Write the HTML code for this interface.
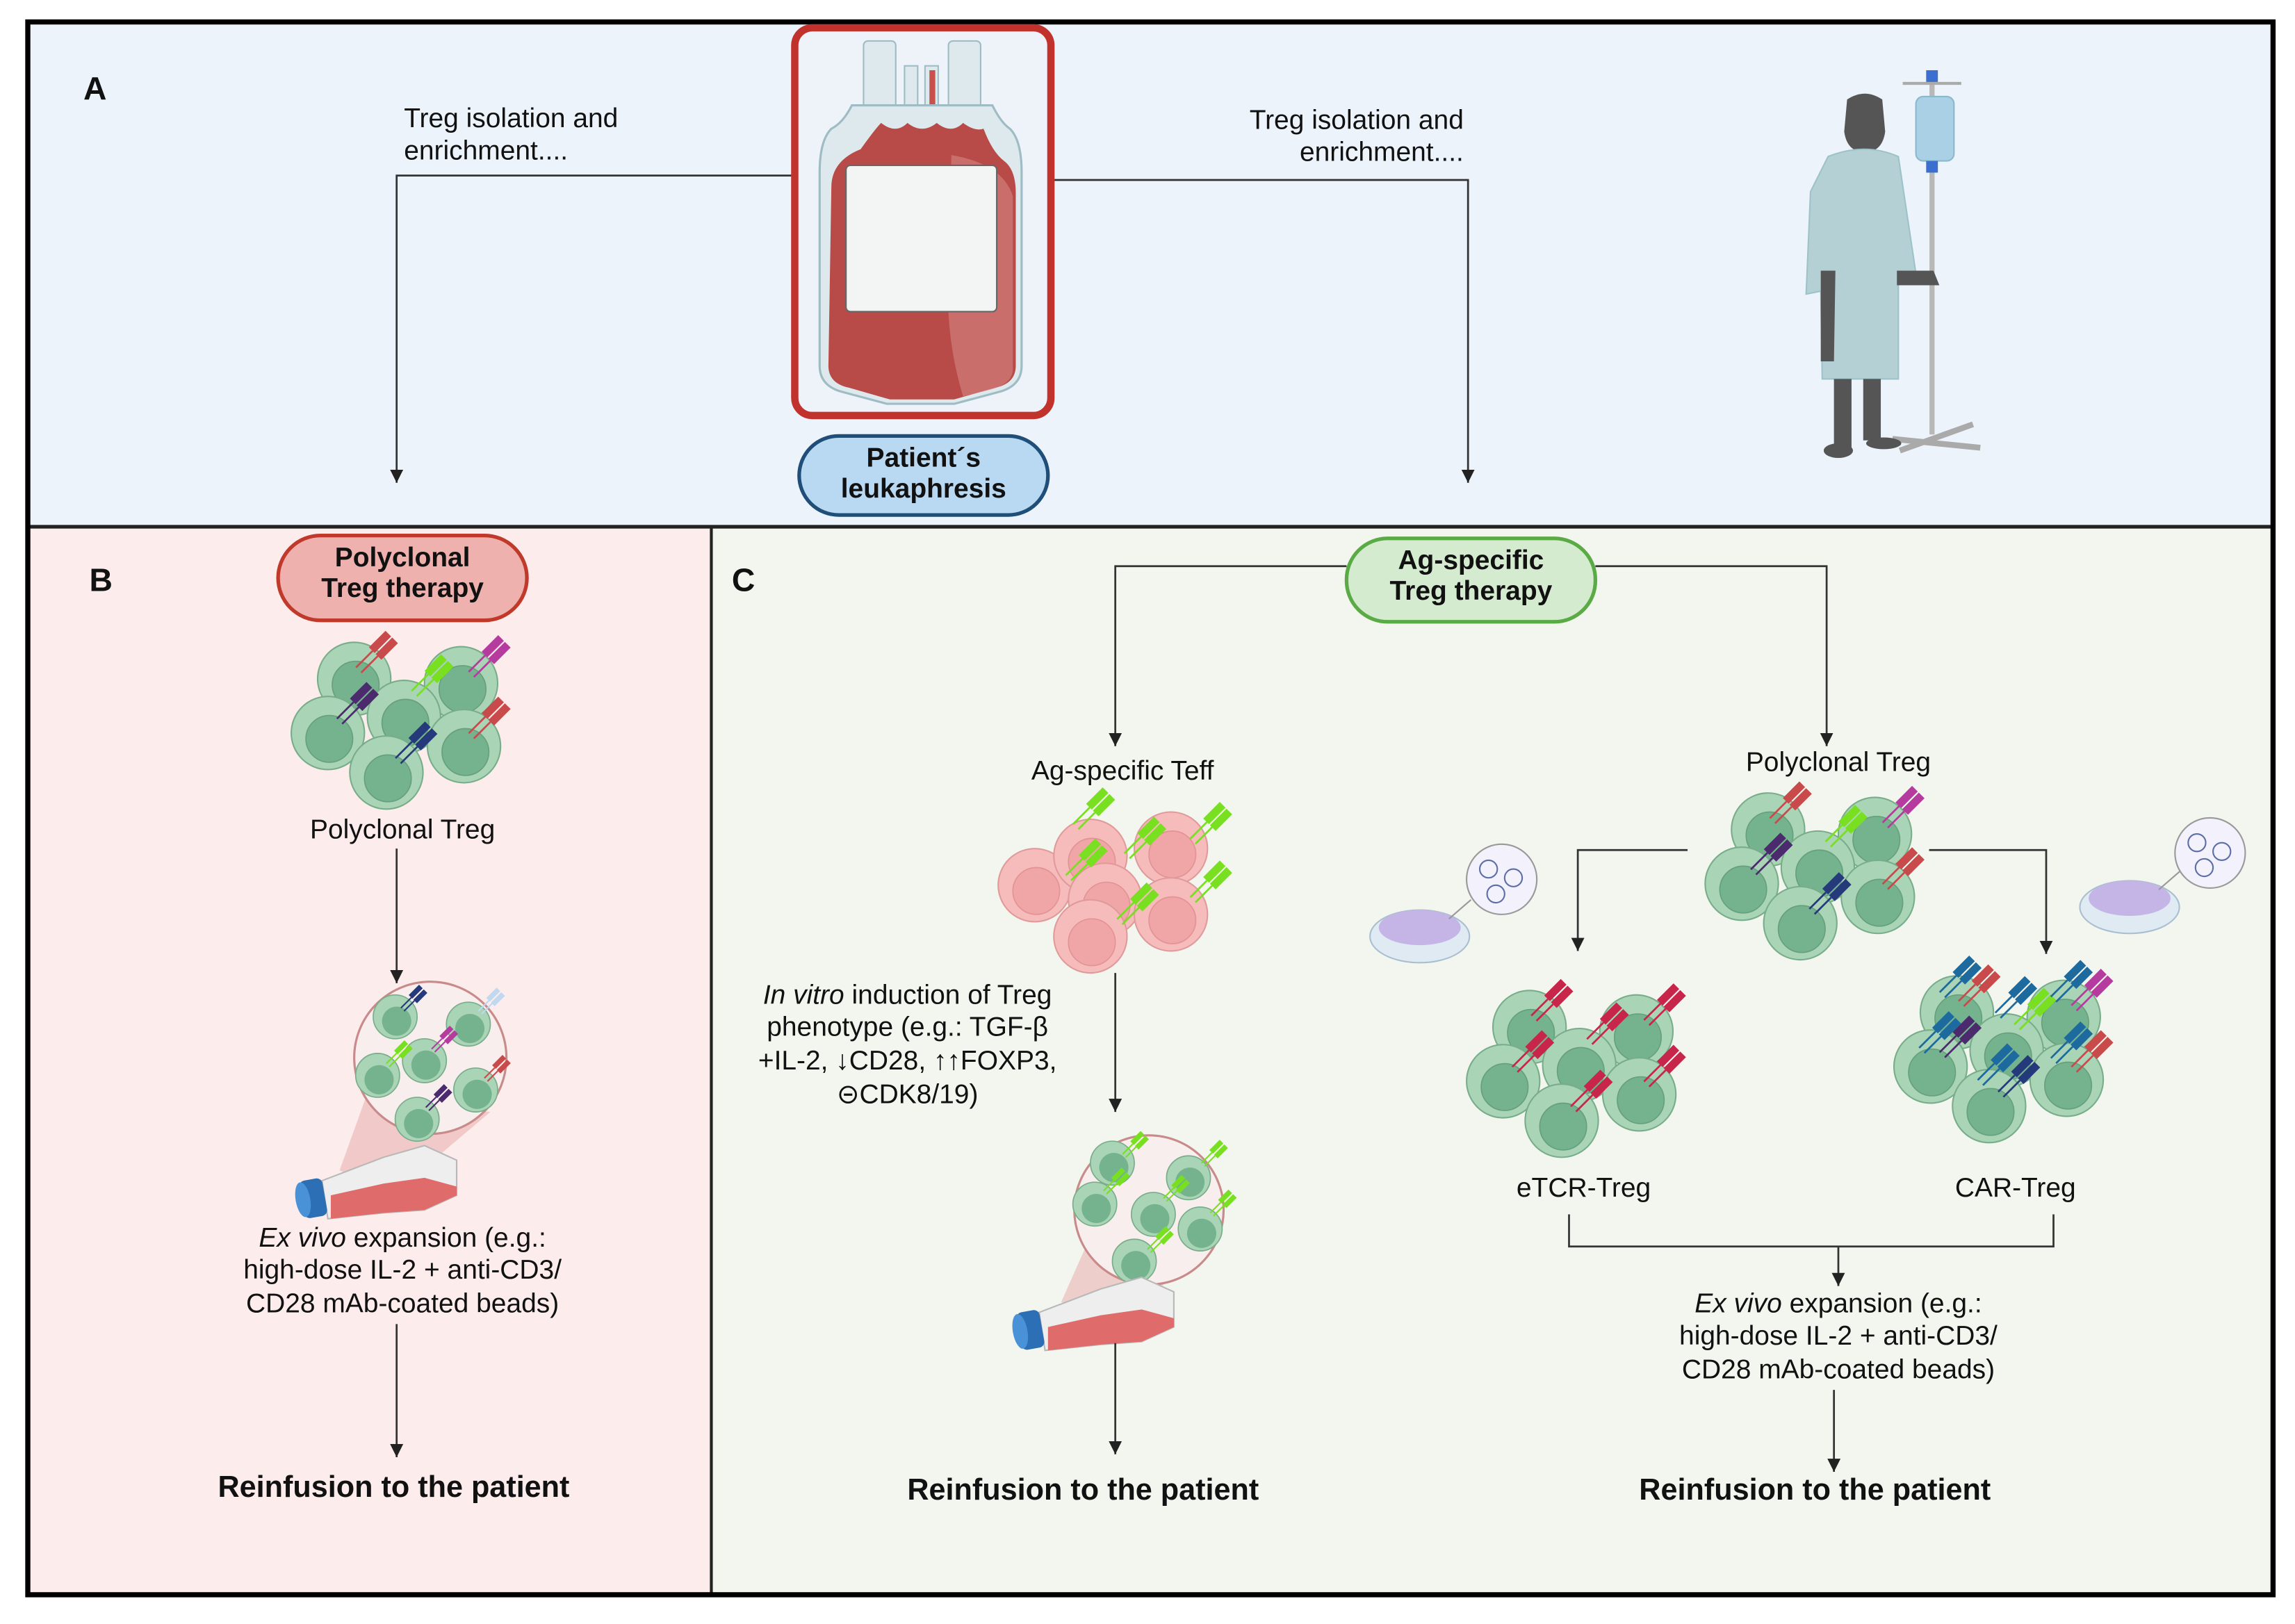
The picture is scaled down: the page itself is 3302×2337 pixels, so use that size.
<!DOCTYPE html>
<html><head><meta charset="utf-8"><style>
html,body{margin:0;padding:0;background:#fff}
svg{display:block}
text{font-family:"Liberation Sans",Arial,sans-serif;fill:#111}
</style></head><body>
<svg width="3302" height="2337" viewBox="0 0 1568 1110" preserveAspectRatio="none" xmlns="http://www.w3.org/2000/svg">
<defs>
<marker id="ah" viewBox="0 0 10 10" refX="10" refY="5" markerWidth="9" markerHeight="10" orient="auto" markerUnits="userSpaceOnUse"><path d="M0,0 L10,5 L0,10 Z" fill="#222"/></marker>
<g id="cell"><circle r="25" fill="#aad4b6" stroke="#78ad8a" stroke-width="1"/><circle cx="1" cy="4" r="16" fill="#74b38d" stroke="#66a07d" stroke-width="0.8"/></g>
<g id="pcell"><circle r="25" fill="#f6bcbc" stroke="#e09a9a" stroke-width="1"/><circle cx="1" cy="4" r="16" fill="#f0a6a6" stroke="#e39393" stroke-width="0.8"/></g>
<g id="scell"><circle r="15" fill="#aad4b6" stroke="#78ad8a" stroke-width="0.8"/><circle cx="1" cy="3" r="10" fill="#74b38d"/></g>
<g id="rec"><g transform="rotate(45)"><line x1="-2.5" y1="0" x2="-2.5" y2="-16" stroke="currentColor" stroke-width="1.3"/><line x1="2.5" y1="0" x2="2.5" y2="-16" stroke="currentColor" stroke-width="1.3"/><rect x="-6" y="-32" width="5.5" height="16" fill="currentColor"/><rect x="0.5" y="-32" width="5.5" height="16" fill="currentColor"/></g></g>
<g id="srec"><g transform="rotate(45)"><line x1="-1.5" y1="0" x2="-1.5" y2="-10" stroke="currentColor" stroke-width="1"/><line x1="1.5" y1="0" x2="1.5" y2="-10" stroke="currentColor" stroke-width="1"/><rect x="-4" y="-20" width="3.5" height="10" fill="currentColor"/><rect x="0.5" y="-20" width="3.5" height="10" fill="currentColor"/></g></g>
<g id="flask">
<polygon points="8,-8 50,-24 78,-32 100,-22 100,2 78,12 50,14 12,18" fill="#eeeeee" stroke="#b8b8b8" stroke-width="1"/>
<polygon points="14,2 50,-6 78,-10 100,-4 100,2 78,12 50,14 14,18" fill="#e06b6b"/>
<rect x="-6" y="-9" width="16" height="26" rx="4" fill="#2c6fb5" transform="rotate(-10 2 4)"/>
<ellipse cx="-5" cy="5" rx="5" ry="12" fill="#4a92d8" transform="rotate(-10 -5 5)"/>
</g>
</defs>

<rect x="19" y="15" width="1534" height="345" fill="#edf3fb"/>
<rect x="19" y="360" width="467" height="730" fill="#fcecec"/>
<rect x="486" y="360" width="1067" height="730" fill="#f3f6ef"/>
<line x1="19" y1="360" x2="1553" y2="360" stroke="#222" stroke-width="2.5"/>
<line x1="486" y1="360" x2="486" y2="1090" stroke="#222" stroke-width="2"/>
<rect x="19" y="15" width="1534" height="1075" fill="none" stroke="#000" stroke-width="3.5"/>

<text x="57" y="68" font-size="22" font-weight="bold">A</text>
<text x="276" y="87" font-size="18.5">Treg isolation and</text>
<text x="276" y="109" font-size="18.5">enrichment....</text>
<polyline points="542,120 271,120 271,330" fill="none" stroke="#333" stroke-width="1.3" marker-end="url(#ah)"/>
<text x="1000" y="88" font-size="18.5" text-anchor="end">Treg isolation and</text>
<text x="1000" y="110" font-size="18.5" text-anchor="end">enrichment....</text>
<polyline points="718,123 1003,123 1003,330" fill="none" stroke="#333" stroke-width="1.3" marker-end="url(#ah)"/>

<!-- blood bag -->
<rect x="543" y="19" width="175" height="265" rx="12" fill="#eef3fa" stroke="#c2322c" stroke-width="5"/>
<rect x="590" y="28" width="22" height="50" rx="3" fill="#dde9ec" stroke="#9fbcc4"/>
<rect x="648" y="28" width="22" height="50" rx="3" fill="#dde9ec" stroke="#9fbcc4"/>
<rect x="618" y="45" width="9" height="30" fill="#dde9ec" stroke="#9fbcc4"/>
<rect x="632" y="45" width="9" height="30" fill="#dde9ec" stroke="#9fbcc4"/>
<rect x="635" y="48" width="4" height="28" fill="#c9514c"/>
<path d="M582,72 h96 q6,12 12,16 q8,8 8,30 v132 q0,14 -16,18 l-30,8 h-46 l-30,-8 q-16,-4 -16,-18 v-132 q0,-22 8,-30 q8,-4 14,-16 Z" fill="#dde9ec" stroke="#9fbcc4" stroke-width="1.5"/>
<path d="M568,128 q0,-18 20,-26 q10,-14 14,-18 q10,8 18,0 q10,8 20,0 q10,8 18,0 q8,6 14,4 q6,16 14,22 q8,6 8,22 v118 q0,12 -14,15 l-28,8 h-44 l-28,-8 q-14,-3 -14,-15 Z" fill="#b84b47"/>
<path d="M650,106 q35,6 42,28 v118 q0,10 -14,14 l-20,5 q-12,-40 -10,-80 Z" fill="#d38583" opacity="0.6"/>
<rect x="578" y="113" width="103" height="100" rx="3" fill="#f3f4f4" stroke="#666" stroke-width="1"/>

<rect x="546" y="298" width="170" height="54" rx="27" fill="#b9d9f2" stroke="#1f4e79" stroke-width="2.5"/>
<text x="631" y="319" font-size="18.5" font-weight="bold" text-anchor="middle">Patient´s</text>
<text x="631" y="340" font-size="18.5" font-weight="bold" text-anchor="middle">leukaphresis</text>

<!-- patient -->
<g>
<line x1="1320" y1="55" x2="1320" y2="297" stroke="#b8b8b8" stroke-width="3.5"/>
<path d="M1300,57 h40" stroke="#aaa" stroke-width="2" fill="none"/>
<rect x="1316" y="48" width="8" height="8" fill="#3a6fd0"/>
<rect x="1309" y="66" width="26" height="44" rx="5" fill="#a9d0e4" stroke="#8ab8cc"/>
<rect x="1316" y="110" width="8" height="8" fill="#3a6fd0"/>
<path d="M1293,300 l60,6 M1298,308 l50,-18" stroke="#aaa" stroke-width="4" fill="none"/>
<path d="M1262,68 q12,-8 24,0 l2,22 q-2,14 -14,14 q-12,0 -14,-14 Z" fill="#555"/>
<path d="M1249,107 q25,-10 48,0 l12,80 l-12,4 l0,68 h-52 l-1,-60 l-10,2 l3,-70 Z" fill="#b5d0d5" stroke="#9cc3c8"/>
<path d="M1296,185 h25 l4,10 h-29 Z" fill="#555"/>
<path d="M1244,185 l0,62 h9 l1,-62 Z" fill="#555"/>
<rect x="1253" y="259" width="12" height="47" fill="#555"/>
<rect x="1273" y="259" width="12" height="42" fill="#555"/>
<ellipse cx="1256" cy="308" rx="10" ry="5" fill="#555"/>
<ellipse cx="1287" cy="303" rx="12" ry="4" fill="#555"/>
</g>

<!-- B -->
<text x="61" y="404" font-size="22" font-weight="bold">B</text>
<rect x="190" y="366" width="170" height="58" rx="29" fill="#efb1ae" stroke="#c0392b" stroke-width="2.5"/>
<text x="275" y="387" font-size="18.5" font-weight="bold" text-anchor="middle">Polyclonal</text>
<text x="275" y="408" font-size="18.5" font-weight="bold" text-anchor="middle">Treg therapy</text>

<g>
<use href="#cell" x="242" y="464"/><use href="#cell" x="224" y="501"/><use href="#cell" x="315" y="467"/><use href="#cell" x="276" y="490"/><use href="#cell" x="317" y="510"/><use href="#cell" x="264" y="528"/>
<use href="#rec" x="245" y="458" color="#c94a4a"/>
<use href="#rec" x="232" y="493" color="#4b2a6e"/>
<use href="#rec" x="283" y="474" color="#78e020"/>
<use href="#rec" x="322" y="461" color="#b53c9e"/>
<use href="#rec" x="322" y="503" color="#c94a4a"/>
<use href="#rec" x="272" y="520" color="#253a7a"/>
</g>
<text x="275" y="573" font-size="18.5" text-anchor="middle">Polyclonal Treg</text>
<line x1="271" y1="580" x2="271" y2="672" stroke="#333" stroke-width="1.3" marker-end="url(#ah)"/>

<polygon points="250,750 335,760 270,815 232,800" fill="#e8a5a5" opacity="0.5"/>
<circle cx="294" cy="723" r="52" fill="#f8eeee" stroke="#c98a8a" stroke-width="1.5"/>
<use href="#scell" x="270" y="695"/><use href="#scell" x="320" y="700"/><use href="#scell" x="290" y="725"/><use href="#scell" x="258" y="735"/><use href="#scell" x="325" y="745"/><use href="#scell" x="285" y="765"/>
<use href="#srec" x="275" y="690" color="#253a7a"/><use href="#srec" x="328" y="692" color="#c0d8f0"/><use href="#srec" x="296" y="718" color="#b53c9e"/><use href="#srec" x="265" y="728" color="#78e020"/><use href="#srec" x="332" y="738" color="#c94a4a"/><use href="#srec" x="292" y="758" color="#4b2a6e"/>
<use href="#flask" x="212" y="815"/>

<text x="275" y="852" font-size="18.5" text-anchor="middle"><tspan font-style="italic">Ex vivo</tspan> expansion (e.g.:</text>
<text x="275" y="874" font-size="18.5" text-anchor="middle">high-dose IL-2 + anti-CD3/</text>
<text x="275" y="897" font-size="18.5" text-anchor="middle">CD28 mAb-coated beads)</text>
<line x1="271" y1="905" x2="271" y2="996" stroke="#333" stroke-width="1.3" marker-end="url(#ah)"/>
<text x="269" y="1023" font-size="20.5" font-weight="bold" text-anchor="middle">Reinfusion to the patient</text>

<!-- C -->
<text x="500" y="404" font-size="22" font-weight="bold">C</text>
<rect x="920" y="368" width="170" height="57" rx="28" fill="#d5ebd0" stroke="#5aab46" stroke-width="2.5"/>
<text x="1005" y="389" font-size="18.5" font-weight="bold" text-anchor="middle">Ag-specific</text>
<text x="1005" y="410" font-size="18.5" font-weight="bold" text-anchor="middle">Treg therapy</text>
<polyline points="920,387 762,387 762,510" fill="none" stroke="#333" stroke-width="1.3" marker-end="url(#ah)"/>
<polyline points="1090,387 1248,387 1248,510" fill="none" stroke="#333" stroke-width="1.3" marker-end="url(#ah)"/>

<text x="767" y="533" font-size="18.5" text-anchor="middle">Ag-specific Teff</text>
<g>
<use href="#pcell" x="707" y="605"/><use href="#pcell" x="745" y="585"/><use href="#pcell" x="800" y="580"/><use href="#pcell" x="755" y="615"/><use href="#pcell" x="800" y="625"/><use href="#pcell" x="745" y="640"/>
<use href="#rec" x="735" y="565" color="#78e020"/><use href="#rec" x="730" y="600" color="#78e020"/><use href="#rec" x="770" y="585" color="#78e020"/><use href="#rec" x="815" y="575" color="#78e020"/><use href="#rec" x="815" y="615" color="#78e020"/><use href="#rec" x="765" y="630" color="#78e020"/>
</g>
<line x1="762" y1="665" x2="762" y2="760" stroke="#333" stroke-width="1.3" marker-end="url(#ah)"/>
<text x="620" y="686" font-size="18.5" text-anchor="middle"><tspan font-style="italic">In vitro</tspan> induction of Treg</text>
<text x="620" y="708" font-size="18.5" text-anchor="middle">phenotype (e.g.: TGF-β</text>
<text x="620" y="731" font-size="18.5" text-anchor="middle">+IL-2, ↓CD28, ↑↑FOXP3,</text>
<text x="620" y="754" font-size="18.5" text-anchor="middle">⊝CDK8/19)</text>

<polygon points="745,845 830,840 770,905 725,890" fill="#e8a5a5" opacity="0.5"/>
<circle cx="785" cy="827" r="51" fill="#f8eeee" stroke="#c98a8a" stroke-width="1.5"/>
<use href="#scell" x="760" y="795"/><use href="#scell" x="812" y="805"/><use href="#scell" x="748" y="823"/><use href="#scell" x="788" y="830"/><use href="#scell" x="820" y="840"/><use href="#scell" x="775" y="862"/>
<use href="#srec" x="768" y="790" color="#78e020"/><use href="#srec" x="822" y="796" color="#78e020"/><use href="#srec" x="755" y="815" color="#78e020"/><use href="#srec" x="796" y="820" color="#78e020"/><use href="#srec" x="828" y="830" color="#78e020"/><use href="#srec" x="785" y="855" color="#78e020"/>
<use href="#flask" x="702" y="905"/>
<line x1="762" y1="918" x2="762" y2="994" stroke="#333" stroke-width="1.3" marker-end="url(#ah)"/>
<text x="740" y="1025" font-size="20.5" font-weight="bold" text-anchor="middle">Reinfusion to the patient</text>

<text x="1256" y="527" font-size="18.5" text-anchor="middle">Polyclonal Treg</text>
<g transform="translate(966,103)">
<use href="#cell" x="242" y="464"/><use href="#cell" x="224" y="501"/><use href="#cell" x="315" y="467"/><use href="#cell" x="276" y="490"/><use href="#cell" x="317" y="510"/><use href="#cell" x="264" y="528"/>
<use href="#rec" x="245" y="458" color="#c94a4a"/><use href="#rec" x="232" y="493" color="#4b2a6e"/><use href="#rec" x="283" y="474" color="#78e020"/><use href="#rec" x="322" y="461" color="#b53c9e"/><use href="#rec" x="322" y="503" color="#c94a4a"/><use href="#rec" x="272" y="520" color="#253a7a"/>
</g>
<polyline points="1153,581 1078,581 1078,650" fill="none" stroke="#333" stroke-width="1.3" marker-end="url(#ah)"/>
<polyline points="1318,581 1398,581 1398,652" fill="none" stroke="#333" stroke-width="1.3" marker-end="url(#ah)"/>

<g>
<ellipse cx="970" cy="640" rx="34" ry="18" fill="#dfeaf3" stroke="#a9bfd0"/>
<ellipse cx="970" cy="634" rx="28" ry="12" fill="#c4b5e6"/>
<line x1="990" y1="628" x2="1005" y2="615" stroke="#999"/>
<circle cx="1026" cy="601" r="24" fill="#f3f1fb" stroke="#999"/>
<circle cx="1017" cy="594" r="6" fill="none" stroke="#5b6ea8"/><circle cx="1034" cy="600" r="6" fill="none" stroke="#5b6ea8"/><circle cx="1022" cy="611" r="6" fill="none" stroke="#5b6ea8"/>
<ellipse cx="1455" cy="620" rx="34" ry="18" fill="#dfeaf3" stroke="#a9bfd0"/>
<ellipse cx="1455" cy="614" rx="28" ry="12" fill="#c4b5e6"/>
<line x1="1475" y1="608" x2="1490" y2="595" stroke="#999"/>
<circle cx="1510" cy="583" r="24" fill="#f3f1fb" stroke="#999"/>
<circle cx="1501" cy="576" r="6" fill="none" stroke="#5b6ea8"/><circle cx="1518" cy="582" r="6" fill="none" stroke="#5b6ea8"/><circle cx="1506" cy="593" r="6" fill="none" stroke="#5b6ea8"/>
</g>

<g transform="translate(803,238)">
<use href="#cell" x="242" y="464"/><use href="#cell" x="224" y="501"/><use href="#cell" x="315" y="467"/><use href="#cell" x="276" y="490"/><use href="#cell" x="317" y="510"/><use href="#cell" x="264" y="528"/>
<use href="#rec" x="245" y="458" color="#c8254a"/><use href="#rec" x="232" y="493" color="#c8254a"/><use href="#rec" x="283" y="474" color="#c8254a"/><use href="#rec" x="322" y="461" color="#c8254a"/><use href="#rec" x="322" y="503" color="#c8254a"/><use href="#rec" x="272" y="520" color="#c8254a"/>
</g>
<text x="1082" y="818" font-size="18.5" text-anchor="middle">eTCR-Treg</text>

<g transform="translate(1095,228)">
<use href="#cell" x="242" y="464"/><use href="#cell" x="224" y="501"/><use href="#cell" x="315" y="467"/><use href="#cell" x="276" y="490"/><use href="#cell" x="317" y="510"/><use href="#cell" x="264" y="528"/>
<use href="#rec" x="245" y="458" color="#c94a4a"/><use href="#rec" x="232" y="493" color="#4b2a6e"/><use href="#rec" x="283" y="474" color="#78e020"/><use href="#rec" x="322" y="461" color="#b53c9e"/><use href="#rec" x="322" y="503" color="#c94a4a"/><use href="#rec" x="272" y="520" color="#253a7a"/>
<use href="#rec" x="232" y="452" color="#1d6a9e"/><use href="#rec" x="218" y="490" color="#1d6a9e"/><use href="#rec" x="270" y="466" color="#1d6a9e"/><use href="#rec" x="308" y="455" color="#1d6a9e"/><use href="#rec" x="308" y="497" color="#1d6a9e"/><use href="#rec" x="258" y="512" color="#1d6a9e"/>
</g>
<text x="1377" y="818" font-size="18.5" text-anchor="middle">CAR-Treg</text>

<polyline points="1072,830 1072,852 1403,852 1403,830" fill="none" stroke="#333" stroke-width="1.3"/>
<line x1="1256" y1="852" x2="1256" y2="879" stroke="#333" stroke-width="1.3" marker-end="url(#ah)"/>
<text x="1256" y="897" font-size="18.5" text-anchor="middle"><tspan font-style="italic">Ex vivo</tspan> expansion (e.g.:</text>
<text x="1256" y="919" font-size="18.5" text-anchor="middle">high-dose IL-2 + anti-CD3/</text>
<text x="1256" y="942" font-size="18.5" text-anchor="middle">CD28 mAb-coated beads)</text>
<line x1="1253" y1="950" x2="1253" y2="1006" stroke="#333" stroke-width="1.3" marker-end="url(#ah)"/>
<text x="1240" y="1025" font-size="20.5" font-weight="bold" text-anchor="middle">Reinfusion to the patient</text>
</svg>
</body></html>
